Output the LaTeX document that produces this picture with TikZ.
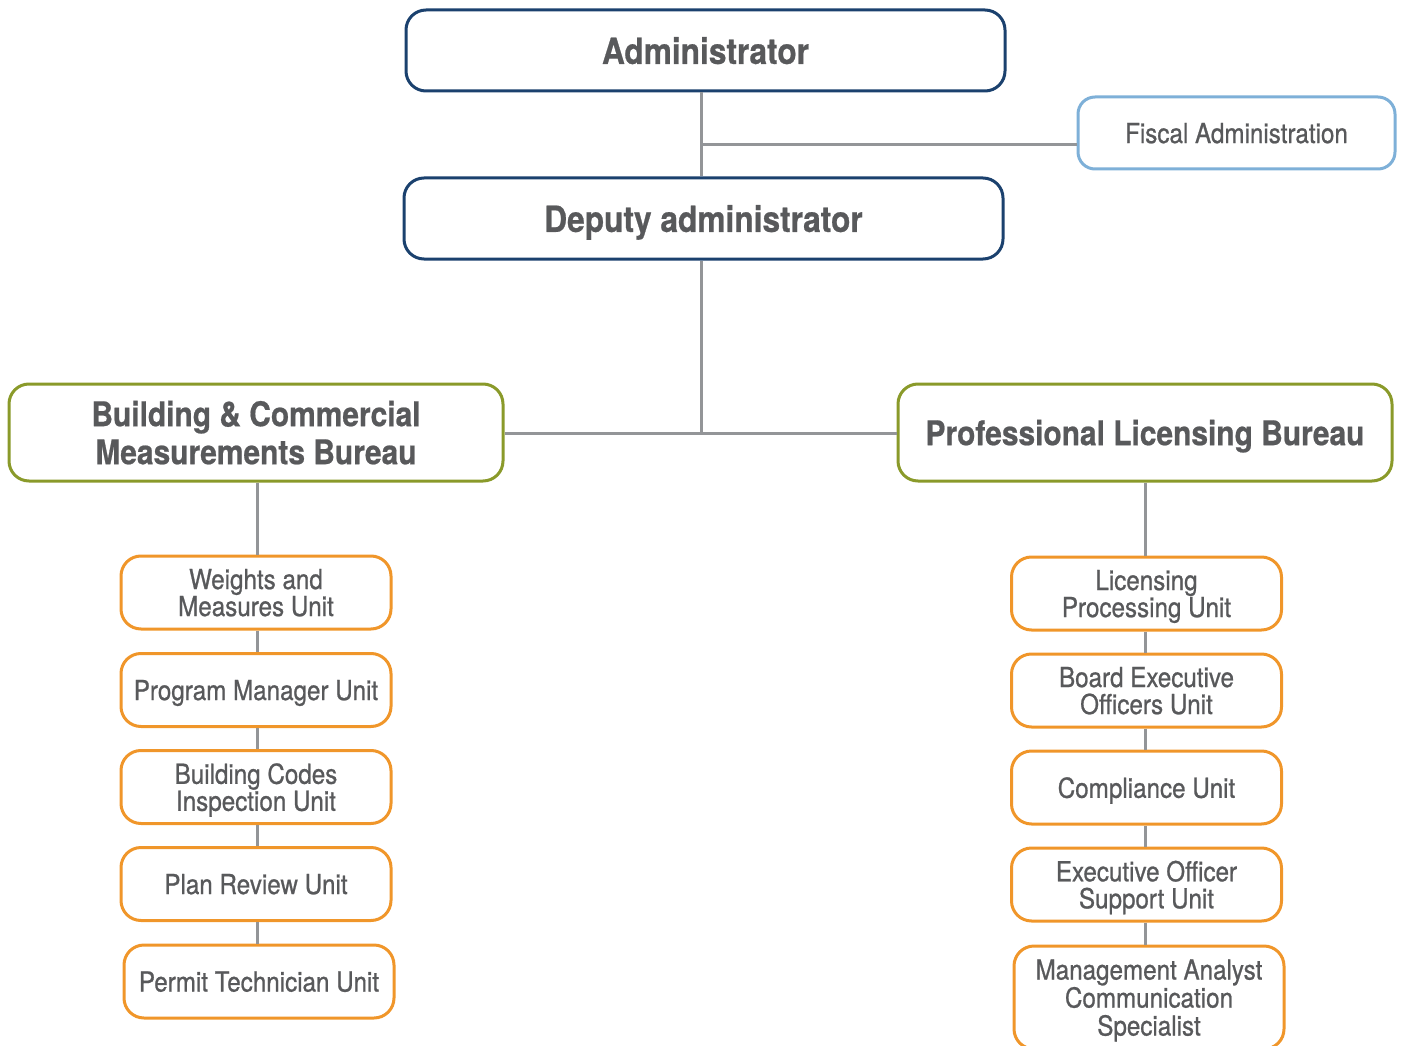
\documentclass[tikz,border=0pt]{standalone}
\usepackage{fontspec}
\setmainfont{TeX Gyre Heros}[FakeStretch=0.88,UprightFeatures={FakeBold=0.8},BoldFeatures={FakeBold=0.6}]
\definecolor{dblue}{HTML}{1B416E}
\definecolor{lblue}{HTML}{7EB0D8}
\definecolor{olive}{HTML}{8A9A2A}
\definecolor{orng}{HTML}{F0962A}
\definecolor{txt}{HTML}{58595B}
\definecolor{lgray}{HTML}{939598}
\begin{document}
\begin{tikzpicture}[x=1pt,y=-1pt,
  box/.style={draw,fill=white,line width=3pt,rounded corners=20pt,inner sep=0pt,align=center,text=txt,text depth=0pt},
  topbox/.style={box,draw=dblue,minimum width=599pt,minimum height=81pt,font=\bfseries\fontsize{36}{40}\selectfont},
  fiscbox/.style={box,draw=lblue,rounded corners=17pt,minimum width=317pt,minimum height=72pt,font=\fontsize{27.5}{27}\selectfont},
  burbox/.style={box,draw=olive,minimum width=494pt,minimum height=97pt,font=\bfseries\fontsize{34}{38}\selectfont},
  unitbox/.style={box,draw=orng,rounded corners=20pt,minimum width=270pt,minimum height=73pt,font=\fontsize{27.5}{27}\selectfont},
  conn/.style={draw=lgray,line width=3pt}]
\useasboundingbox (0,0) rectangle (1401,1046);
\clip (0,0) rectangle (1401,1046);
\node[topbox] (admin) at (705.5,50.5) {Administrator};
\node[fiscbox] (fisc) at (1236.5,133) {Fiscal Administration};
\node[topbox] (dep) at (703.5,218.5) {Deputy administrator};
\node[burbox] (bcm) at (256,432.5) {Building \& Commercial\\Measurements Bureau};
\node[burbox] (plb) at (1145,432.5) {Professional Licensing Bureau};
% left units
\node[unitbox] (wm) at (256,592.5) {Weights and\\Measures Unit};
\node[unitbox] (pm) at (256,690) {Program Manager Unit};
\node[unitbox] (bc) at (256,787) {Building Codes\\Inspection Unit};
\node[unitbox] (pr) at (256,884) {Plan Review Unit};
\node[unitbox] (pt) at (259,981.5) {Permit Technician Unit};
% right units
\node[unitbox] (lp) at (1146.5,593.5) {Licensing\\Processing Unit};
\node[unitbox] (be) at (1146.5,690.5) {Board Executive\\Officers Unit};
\node[unitbox] (cu) at (1146.5,787.5) {Compliance Unit};
\node[unitbox] (eo) at (1146.5,884.5) {Executive Officer\\Support Unit};
\node[unitbox,minimum height=103pt,font=\fontsize{27.5}{28}\selectfont] (ma) at (1149,997.5) {Management Analyst\\Communication\\Specialist};
% connectors
\coordinate (j1) at (701,145);
\coordinate (j2) at (701,433.5);
\path[conn] (j1 |- admin.south) -- (j1 |- dep.north);
\path[conn] (j1) -- (j1 -| fisc.west);
\path[conn] (j1 |- dep.south) -- (j2);
\path[conn] (j2 -| bcm.east) -- (j2 -| plb.west);
\coordinate (lx) at (257,0);
\path[conn] (lx |- bcm.south) -- (lx |- wm.north);
\path[conn] (lx |- wm.south) -- (lx |- pm.north);
\path[conn] (lx |- pm.south) -- (lx |- bc.north);
\path[conn] (lx |- bc.south) -- (lx |- pr.north);
\path[conn] (lx |- pr.south) -- (lx |- pt.north);
\coordinate (rx) at (1145,0);
\path[conn] (rx |- plb.south) -- (rx |- lp.north);
\path[conn] (rx |- lp.south) -- (rx |- be.north);
\path[conn] (rx |- be.south) -- (rx |- cu.north);
\path[conn] (rx |- cu.south) -- (rx |- eo.north);
\path[conn] (rx |- eo.south) -- (rx |- ma.north);
\end{tikzpicture}
\end{document}
